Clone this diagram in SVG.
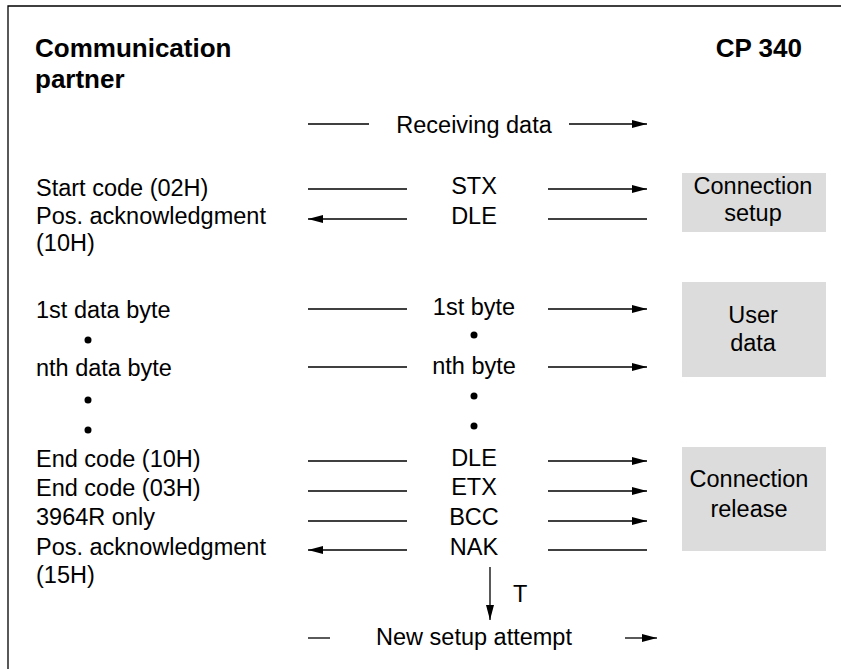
<svg xmlns="http://www.w3.org/2000/svg" width="841" height="669" viewBox="0 0 841 669">
<defs>
<marker id="ah" viewBox="0 0 15 8" refX="15" refY="4" markerWidth="15" markerHeight="8" markerUnits="userSpaceOnUse" orient="auto">
<path d="M0,0 L15,4 L0,8 Z" fill="#000"/>
</marker>
</defs>
<style>
text{font-family:"Liberation Sans",Arial,sans-serif;font-size:23.5px;fill:#000}
.b{font-weight:bold;font-size:26px}
.m{text-anchor:middle}
.e{text-anchor:end}
.ln{stroke:#000;stroke-width:1.3;fill:none}
.box{fill:#dcdcdc}
</style>
<rect x="0" y="0" width="841" height="669" fill="#fff"/>
<path d="M8,669 V6 H841" class="ln"/>
<g id="header">
<text x="35" y="57" class="b">Communication</text>
<text x="35" y="88" class="b">partner</text>
<text x="802" y="57" class="b e">CP 340</text>
</g>
<g id="labels-left">
<text x="36" y="196">Start code (02H)</text>
<text x="36" y="224">Pos. acknowledgment</text>
<text x="36" y="251">(10H)</text>
<text x="36" y="318">1st data byte</text>
<text x="36" y="376">nth data byte</text>
<text x="36" y="467">End code (10H)</text>
<text x="36" y="496">End code (03H)</text>
<text x="36" y="525">3964R only</text>
<text x="36" y="555">Pos. acknowledgment</text>
<text x="36" y="583">(15H)</text>
<circle cx="88" cy="340" r="3.5"/>
<circle cx="88" cy="400" r="3.5"/>
<circle cx="88" cy="430" r="3.5"/>
</g>
<g id="labels-mid">
<text x="474" y="133" class="m">Receiving data</text>
<text x="474" y="194" class="m">STX</text>
<text x="474" y="224" class="m">DLE</text>
<text x="474" y="315" class="m">1st byte</text>
<text x="474" y="374" class="m">nth byte</text>
<text x="474" y="466" class="m">DLE</text>
<text x="474" y="495" class="m">ETX</text>
<text x="474" y="525" class="m">BCC</text>
<text x="474" y="555" class="m">NAK</text>
<text x="513" y="602">T</text>
<text x="474" y="645" class="m">New setup attempt</text>
<circle cx="474" cy="335" r="3.5"/>
<circle cx="474" cy="396" r="3.5"/>
<circle cx="474" cy="426" r="3.5"/>
</g>
<g id="node-setup">
<rect x="682" y="173" width="144" height="59" class="box"/>
<text x="753" y="194" class="m">Connection</text>
<text x="753" y="221" class="m">setup</text>
</g>
<g id="node-userdata">
<rect x="682" y="282" width="144" height="95" class="box"/>
<text x="753" y="323" class="m">User</text>
<text x="753" y="351" class="m">data</text>
</g>
<g id="node-release">
<rect x="682" y="447" width="144" height="104" class="box"/>
<text x="749" y="487" class="m">Connection</text>
<text x="749" y="517" class="m">release</text>
</g>
<g id="connectors">
<line x1="308" y1="124" x2="369" y2="124" class="ln"/>
<line x1="569" y1="124" x2="647" y2="124" class="ln" marker-end="url(#ah)"/>
<line x1="308" y1="189" x2="407" y2="189" class="ln"/>
<line x1="548" y1="189" x2="647" y2="189" class="ln" marker-end="url(#ah)"/>
<line x1="407" y1="219" x2="308" y2="219" class="ln" marker-end="url(#ah)"/>
<line x1="548" y1="219" x2="647" y2="219" class="ln"/>
<line x1="308" y1="309" x2="407" y2="309" class="ln"/>
<line x1="548" y1="309" x2="647" y2="309" class="ln" marker-end="url(#ah)"/>
<line x1="308" y1="367" x2="407" y2="367" class="ln"/>
<line x1="548" y1="367" x2="647" y2="367" class="ln" marker-end="url(#ah)"/>
<line x1="308" y1="461" x2="407" y2="461" class="ln"/>
<line x1="548" y1="461" x2="647" y2="461" class="ln" marker-end="url(#ah)"/>
<line x1="308" y1="491" x2="407" y2="491" class="ln"/>
<line x1="548" y1="491" x2="647" y2="491" class="ln" marker-end="url(#ah)"/>
<line x1="308" y1="521" x2="407" y2="521" class="ln"/>
<line x1="548" y1="521" x2="647" y2="521" class="ln" marker-end="url(#ah)"/>
<line x1="407" y1="550" x2="308" y2="550" class="ln" marker-end="url(#ah)"/>
<line x1="548" y1="550" x2="647" y2="550" class="ln"/>
<line x1="490" y1="567" x2="490" y2="620" class="ln" marker-end="url(#ah)"/>
<line x1="308" y1="638" x2="330" y2="638" class="ln"/>
<line x1="625" y1="638" x2="657" y2="638" class="ln" marker-end="url(#ah)"/>
</g>
</svg>
